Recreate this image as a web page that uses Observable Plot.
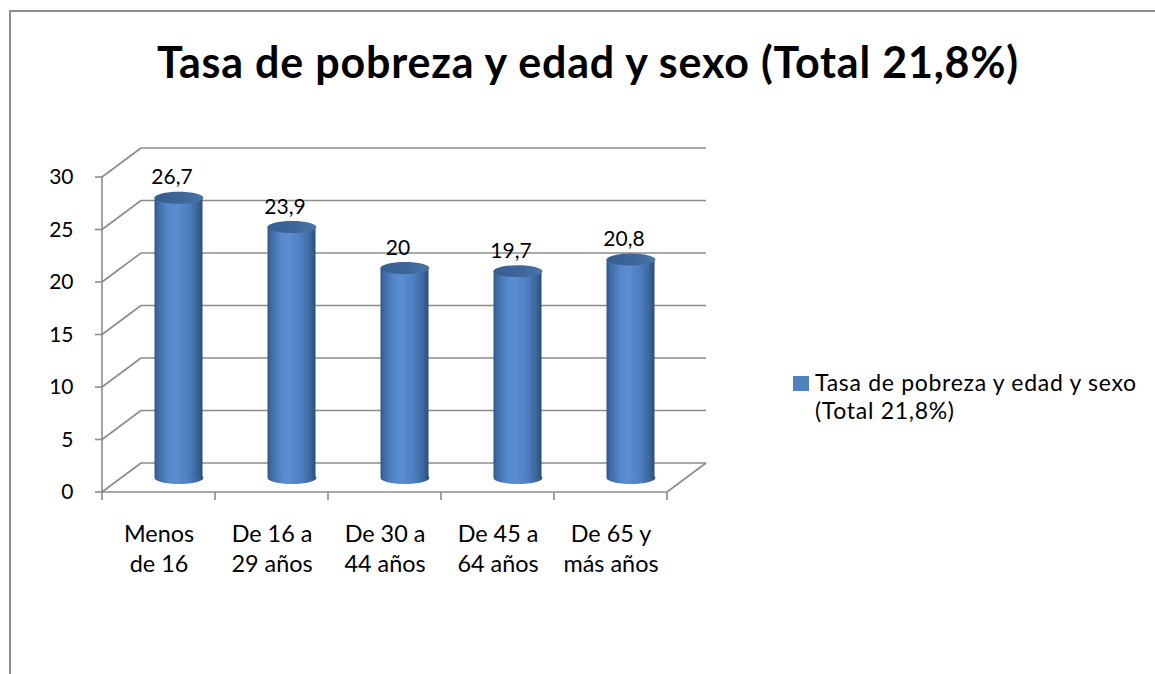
<!DOCTYPE html>
<html>
<head>
<meta charset="utf-8">
<script src="https://cdn.jsdelivr.net/npm/d3@7"></script>
<script src="https://cdn.jsdelivr.net/npm/@observablehq/plot@0.6"></script>
<style>
  html, body { margin: 0; padding: 0; background: #fff; }
  #page { position: relative; width: 1155px; height: 674px; overflow: hidden; background: #fff; font-family: Lato, "DejaVu Sans", sans-serif; }
  #frame { position: absolute; left: 9px; top: 10px; width: 1160px; height: 680px; border-top: 2px solid #8c8c8c; border-left: 2px solid #8c8c8c; }
  #title { position: absolute; left: 588px; top: 40px; transform: translateX(-50%); white-space: nowrap; font-size: 43px; letter-spacing: 0.8px; line-height: 1; font-weight: 700; color: #000; }
  #chart { position: absolute; left: 0; top: 0; }
  #legend { position: absolute; left: 793px; top: 368px; font-size: 23px; letter-spacing: 0.7px; line-height: 28px; color: #000; }
  #legend .sw { position: absolute; left: 0; top: 8px; width: 16px; height: 15px; background: #4f81bd; }
  #legend .tx { position: absolute; left: 22px; top: 0; white-space: nowrap; }
</style>
</head>
<body>
<div id="page">
  <div id="frame"></div>
  <div id="title"></div>
  <div id="chart"></div>
  <div id="legend"><div class="sw"></div><div class="tx"></div></div>
</div>
<script>
// ---- data ----
const chartTitle = "Tasa de pobreza y edad y sexo (Total 21,8%)";
const seriesName = ["Tasa de pobreza y edad y sexo", "(Total 21,8%)"];
const categories = ["Menos\nde 16", "De 16 a\n29 años", "De 30 a\n44 años", "De 45 a\n64 años", "De 65 y\nmás años"];
const values = [26.7, 23.9, 20, 19.7, 20.8];
const valueLabels = ["26,7", "23,9", "20", "19,7", "20,8"];
const yTicks = [0, 5, 10, 15, 20, 25, 30];

document.getElementById("title").textContent = chartTitle;
document.querySelector("#legend .tx").innerHTML = seriesName.map(s => `<div>${s}</div>`).join("");

const data = categories.map((c, i) => ({cat: c, value: values[i], label: valueLabels[i]}));

// 3D depth offsets (styling)
const DX = 39, DY = -29;     // back wall offset
const BX = 20, BY = -14.5;   // cylinder offset (mid-depth)
const gridColor = "#8c8c8c";

function ellipseSymbol(rx, ry) {
  const k = 0.5523;
  return {
    draw(ctx) {
      ctx.moveTo(rx, 0);
      ctx.bezierCurveTo(rx, ry * k, rx * k, ry, 0, ry);
      ctx.bezierCurveTo(-rx * k, ry, -rx, ry * k, -rx, 0);
      ctx.bezierCurveTo(-rx, -ry * k, -rx * k, -ry, 0, -ry);
      ctx.bezierCurveTo(rx * k, -ry, rx, -ry * k, rx, 0);
      ctx.closePath();
    }
  };
}

// walls, floor, gridlines and ticks drawn through Plot's scales
function walls(index, scales, values, dimensions) {
  const x = scales.x, y = scales.y;
  const x0 = x(categories[0]);
  const x1 = x(categories[categories.length - 1]) + x.bandwidth();
  const g = d3.create("svg:g")
    .attr("stroke", gridColor).attr("stroke-width", 1.6).attr("fill", "none");
  const line = (a, b, c, d) => g.append("line").attr("x1", a).attr("y1", b).attr("x2", c).attr("y2", d);
  for (const v of yTicks) {
    const yy = y(v);
    line(x0, yy, x0 + DX, yy + DY);              // left wall diagonal
    line(x0 + DX, yy + DY, x1 + DX, yy + DY);    // back gridline
    line(x0 - 7, yy, x0, yy);                    // tick
  }
  line(x0, y(0), x0, y(30));                     // front vertical axis
  line(x0, y(0), x1, y(0));                      // floor front edge
  line(x1, y(0), x1 + DX, y(0) + DY);            // floor right edge
  const bounds = categories.map(c => x(c)).concat([x1]);
  for (const b of bounds) line(b, y(0), b, y(0) + 8);
  return g.node();
}

const W = 720, H = 600;
const inset = 32.5;
const rx = 24.4, ry = 6;

const plot = Plot.plot({
  width: W,
  height: H,
  marginLeft: 100,
  marginRight: W - 669,
  marginTop: 177,
  marginBottom: H - 492,
  x: {domain: categories, padding: 0, axis: null},
  y: {domain: [0, 30], axis: null},
  style: {overflow: "visible", fontFamily: "Lato, sans-serif", background: "transparent", color: "#000"},
  marks: [
    walls,
    Plot.text(yTicks, {y: d => d, text: d => String(d), frameAnchor: "left", textAnchor: "end", dx: -27, fontSize: 21, fill: "#000"}),
    Plot.text(data, {x: "cat", text: "cat", frameAnchor: "bottom", lineAnchor: "top", dy: 28, fontSize: 23.4, lineHeight: 1.28, fill: "#000"}),
    Plot.dot(data, {x: "cat", y: d => 0, symbol: ellipseSymbol(rx, ry), r: 1, fill: "url(#cylGrad)", stroke: "none", dx: BX, dy: BY}),
    Plot.barY(data, {x: "cat", y: "value", fill: "url(#cylGrad)", insetLeft: inset, insetRight: inset, dx: BX, dy: BY}),
    Plot.dot(data, {x: "cat", y: "value", symbol: ellipseSymbol(rx, ry), r: 1, fill: "url(#topGrad)", stroke: "none", dx: BX, dy: BY}),
    Plot.text(data, {x: "cat", y: "value", text: "label", dx: 13, dy: BY - 20, fontSize: 21, fill: "#000"})
  ]
});

const defs = d3.select(plot).insert("defs", ":first-child");
const cg = defs.append("linearGradient").attr("id", "cylGrad").attr("x1", 0).attr("x2", 1).attr("y1", 0).attr("y2", 0);
[["0%", "#2f568a"], ["7%", "#3f6aa4"], ["30%", "#5689cc"], ["45%", "#5a8dd1"], ["70%", "#4d7fc0"], ["90%", "#3b6499"], ["100%", "#2a4c7b"]]
  .forEach(([o, c]) => cg.append("stop").attr("offset", o).attr("stop-color", c));
const tg = defs.append("linearGradient").attr("id", "topGrad").attr("x1", 0).attr("x2", 1).attr("y1", 0).attr("y2", 0);
[["0%", "#355d8f"], ["60%", "#3f6799"], ["100%", "#4a75ac"]]
  .forEach(([o, c]) => tg.append("stop").attr("offset", o).attr("stop-color", c));

document.getElementById("chart").appendChild(plot);
</script>
</body>
</html>
